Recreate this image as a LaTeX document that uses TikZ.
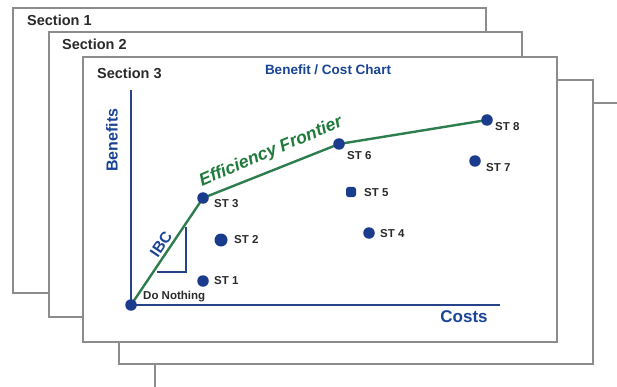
\documentclass[tikz,border=0pt]{standalone}
\usepackage{fontspec}
\setmainfont{Liberation Sans}
\definecolor{framegray}{HTML}{8C8C8C}
\definecolor{secgray}{HTML}{2A2A2A}
\definecolor{dotblue}{HTML}{1B3C8C}
\definecolor{axisblue}{HTML}{27448A}
\definecolor{textblue}{HTML}{1A4496}
\definecolor{frontgreen}{HTML}{2E7D4F}
\definecolor{textgreen}{HTML}{1F7A3C}
\definecolor{labgray}{HTML}{2B2B2B}
\pgfdeclarelayer{back}
\pgfdeclarelayer{front}
\pgfsetlayers{back,main,front}
\begin{document}
\begin{tikzpicture}[x=1pt,y=-1pt,
  frame/.style={draw=framegray, line width=1.2pt, fill=white},
  sect/.style={font=\fontsize{14.5}{15}\selectfont\bfseries, text=secgray, anchor=west, inner sep=0},
  dot/.style={circle, fill=dotblue, minimum size=11.5pt, inner sep=0},
  sqdot/.style={rectangle, rounded corners=2.5pt, fill=dotblue, minimum size=10pt, inner sep=0},
  stl/.style={font=\fontsize{11.5}{12}\selectfont\bfseries, text=labgray, anchor=west, inner sep=0},
  axis/.style={draw=axisblue, line width=2.6pt},
  frontier/.style={draw=frontgreen, line width=2.4pt},
  tri/.style={draw=axisblue, line width=1.5pt},
  bluetxt/.style={text=textblue, font=\bfseries, inner sep=0}]
\useasboundingbox (0,0) rectangle (617,387);
% stacked frames
\begin{pgfonlayer}{back}
\draw[frame] (155,103) rectangle (629,388);
\draw[frame] (119,80) rectangle (593,364);
\draw[frame] (13,8) rectangle (486,293);
\draw[frame] (49,32) rectangle (522,317);
\draw[frame] (83,57) rectangle (557,342);
\end{pgfonlayer}
\node[sect] (s1) at (27,20) {Section 1};
\node[sect] (s2) at (62,44) {Section 2};
\node[sect] (s3) at (97,73) {Section 3};
\node[bluetxt, font=\fontsize{13.5}{14}\selectfont\bfseries] (title) at (328,70) {Benefit / Cost Chart};
% points
\begin{pgfonlayer}{front}
\node[dot] (dn) at (131,305) {};
\node[dot] (st1) at (203,281) {};
\node[dot, minimum size=13pt] (st2) at (221,240) {};
\node[dot] (st3) at (203,198) {};
\node[dot] (st4) at (369,233) {};
\node[sqdot] (st5) at (351,192) {};
\node[dot] (st6) at (339,144) {};
\node[dot] (st7) at (475,161) {};
\node[dot] (st8) at (487,120) {};
\end{pgfonlayer}
% axes
\coordinate (ytop) at (131,90);
\coordinate (xend) at (500,305);
\draw[axis] (ytop) -- (dn.center) -- (xend);
\node[bluetxt, rotate=90, font=\fontsize{16}{16}\selectfont\bfseries] (ben) at (112,140) {Benefits};
\node[bluetxt, font=\fontsize{17}{17}\selectfont\bfseries] (costs) at (464,317) {Costs};
% IBC triangle
\coordinate (ta) at (186,227);
\coordinate (tb) at (186,272);
\coordinate (tc) at (157,272);
\draw[tri] (ta) -- (tb) -- (tc);
% efficiency frontier
\draw[frontier] (dn.center) -- (st3.center) -- (st6.center) -- (st8.center);
% labels
\node[stl] (ldn) at (143,297) {Do Nothing};
\node[stl] (l1) at (214,281) {ST 1};
\node[stl] (l2) at (234,240) {ST 2};
\node[stl] (l3) at (214,204) {ST 3};
\node[stl] (l4) at (380,234) {ST 4};
\node[stl] (l5) at (364,193) {ST 5};
\node[stl] (l6) at (347,156) {ST 6};
\node[stl] (l7) at (486,168) {ST 7};
\node[stl] (l8) at (495,127) {ST 8};
\node[text=textgreen, font=\fontsize{17.5}{18}\selectfont\bfseries\itshape, rotate=23, inner sep=0] (ef) at (271,152) {Efficiency Frontier};
\node[bluetxt, rotate=56, font=\fontsize{15.5}{16}\selectfont\bfseries] (ibc) at (161,244) {IBC};
\end{tikzpicture}
\end{document}
